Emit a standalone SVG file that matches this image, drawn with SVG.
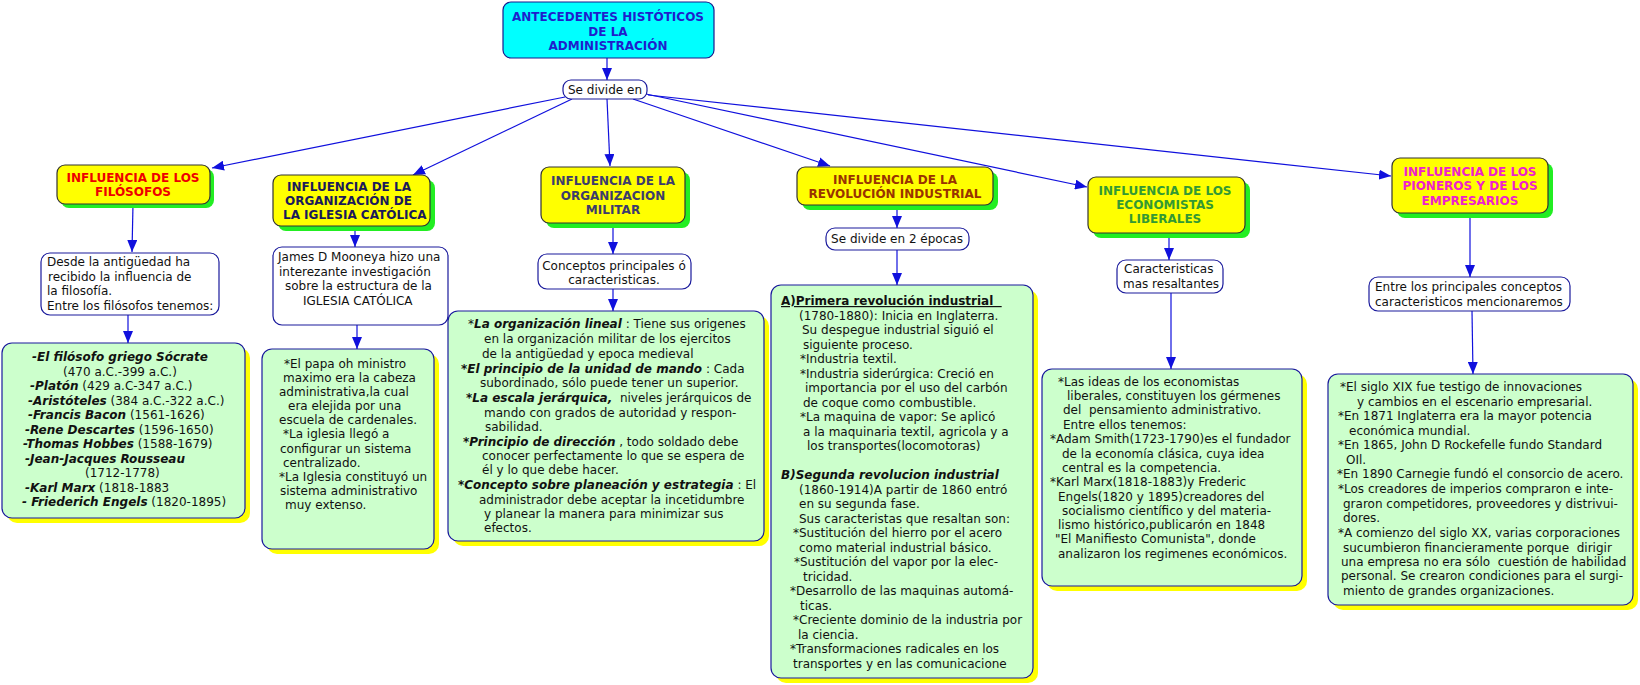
<svg xmlns="http://www.w3.org/2000/svg" width="1640" height="685" viewBox="0 0 1640 685">
<style>
text{font-family:"DejaVu Sans",Verdana,"Liberation Sans",sans-serif;font-size:12px;fill:#111}
.h{font-weight:bold}
.c{text-anchor:middle}
.bi{font-weight:bold;font-style:italic}
.shG{fill:#22ee22}
.shY{fill:#ffff00}
.hd{fill:#ffff00;stroke:#333;stroke-width:1.2}
.tt{fill:#00ffff;stroke:#1a1a8c;stroke-width:1.2}
.wb{fill:#fff;stroke:#1a1a9c;stroke-width:1.2}
.gb{fill:#ccffcc;stroke:#1a1a9c;stroke-width:1.2}
.ln{stroke:#1010dd;stroke-width:1.2;fill:none;marker-end:url(#ah)}
</style>
<defs>
<marker id="ah" markerUnits="userSpaceOnUse" markerWidth="12" markerHeight="10" refX="12" refY="5" orient="auto">
<path d="M0,0 L12,5 L0,10 z" fill="#1010dd"/>
</marker>
</defs>
<rect width="1640" height="685" fill="#fff"/>

<g id="connectors">
<line class="ln" x1="607" y1="58" x2="607" y2="80"/>
<line class="ln" x1="565" y1="97" x2="212" y2="168"/>
<line class="ln" x1="572" y1="99" x2="413" y2="175"/>
<line class="ln" x1="607" y1="99" x2="610" y2="166"/>
<line class="ln" x1="633" y1="99" x2="830" y2="166"/>
<line class="ln" x1="646" y1="94" x2="1087" y2="187"/>
<line class="ln" x1="648" y1="95" x2="1391" y2="176"/>
<line class="ln" x1="133" y1="204" x2="132" y2="252"/>
<line class="ln" x1="128" y1="315" x2="128" y2="343"/>
<line class="ln" x1="355" y1="226" x2="355" y2="247"/>
<line class="ln" x1="357" y1="325" x2="357" y2="349"/>
<line class="ln" x1="613" y1="223" x2="613" y2="254"/>
<line class="ln" x1="613" y1="289" x2="613" y2="311"/>
<line class="ln" x1="897" y1="205" x2="897" y2="228"/>
<line class="ln" x1="897" y1="250" x2="897" y2="285"/>
<line class="ln" x1="1169" y1="233" x2="1169" y2="260"/>
<line class="ln" x1="1171" y1="293" x2="1171" y2="369"/>
<line class="ln" x1="1470" y1="213" x2="1470" y2="277"/>
<line class="ln" x1="1472" y1="311" x2="1473" y2="374"/>
</g>

<g id="title">
<rect class="tt" x="503" y="2" width="211" height="56" rx="8"/>
<text class="h c" x="608" y="21" style="fill:#1f1fcc">ANTECEDENTES HISTÓTICOS</text>
<text class="h c" x="608" y="35.5" style="fill:#1f1fcc">DE LA</text>
<text class="h c" x="608" y="50" style="fill:#1f1fcc">ADMINISTRACIÓN</text>
</g>

<g id="se-divide">
<rect class="wb" x="563" y="80" width="84" height="19" rx="8"/>
<text class="c" x="605" y="94">Se divide en</text>
</g>

<g id="h-filosofos">
<rect class="shG" x="61" y="169" width="153" height="39" rx="8"/>
<rect class="hd" x="57" y="165" width="153" height="39" rx="8"/>
<text class="h c" x="133" y="182" style="fill:#ee0000">INFLUENCIA DE LOS</text>
<text class="h c" x="133" y="196" style="fill:#ee0000">FILÓSOFOS</text>
</g>

<g id="b-filosofos">
<rect class="wb" x="41" y="253" width="178" height="62" rx="9"/>
<text x="47" y="266">Desde la antigüedad ha</text>
<text x="48" y="281">recibido la influencia de</text>
<text x="47" y="295">la filosofía.</text>
<text x="47" y="310">Entre los filósofos tenemos:</text>
</g>

<g id="g-filosofos">
<rect class="shY" x="7" y="348" width="243" height="175" rx="10"/>
<rect class="gb" x="2" y="343" width="243" height="175" rx="10"/>
<text x="32" y="361"><tspan class="bi">-El filósofo griego Sócrate</tspan></text>
<text x="63" y="375.5">(470 a.C.-399 a.C.)</text>
<text x="30" y="390"><tspan class="bi">-Platón</tspan> (429 a.C-347 a.C.)</text>
<text x="28" y="404.5"><tspan class="bi">-Aristóteles</tspan> (384 a.C.-322 a.C.)</text>
<text x="28" y="419"><tspan class="bi">-Francis Bacon</tspan> (1561-1626)</text>
<text x="25" y="433.5"><tspan class="bi">-Rene Descartes</tspan> (1596-1650)</text>
<text x="23" y="448"><tspan class="bi">-Thomas Hobbes</tspan> (1588-1679)</text>
<text x="25" y="462.5"><tspan class="bi">-Jean-Jacques Rousseau</tspan></text>
<text x="85" y="477">(1712-1778)</text>
<text x="25" y="491.5"><tspan class="bi">-Karl Marx</tspan> (1818-1883</text>
<text x="22" y="506"><tspan class="bi">- Friederich Engels</tspan> (1820-1895)</text>
</g>

<g id="h-iglesia">
<rect class="shG" x="278" y="180" width="157" height="51" rx="8"/>
<rect class="hd" x="273" y="175" width="157" height="51" rx="8"/>
<text class="h" x="287" y="191" style="fill:#1a1a5a">INFLUENCIA DE LA</text>
<text class="h" x="285" y="205" style="fill:#1a1a5a">ORGANIZACIÓN DE</text>
<text class="h" x="283" y="219" style="fill:#1a1a5a">LA IGLESIA CATÓLICA</text>
</g>

<g id="b-iglesia">
<rect class="wb" x="273" y="247" width="175" height="78" rx="9"/>
<text x="278" y="261">James D Mooneya hizo una</text>
<text x="279" y="275.5">interezante investigación</text>
<text x="285" y="290">sobre la estructura de la</text>
<text x="303" y="304.5">IGLESIA CATÓLICA</text>
</g>

<g id="g-iglesia">
<rect class="shY" x="267" y="354" width="172" height="200" rx="10"/>
<rect class="gb" x="262" y="349" width="172" height="200" rx="10"/>
<text x="284" y="367.5">*El papa oh ministro</text>
<text x="283" y="381.5">maximo era la cabeza</text>
<text x="279" y="396">administrativa,la cual</text>
<text x="288" y="410">era elejida por una</text>
<text x="279" y="424">escuela de cardenales.</text>
<text x="283" y="438">*La iglesia llegó a</text>
<text x="280" y="452.5">configurar un sistema</text>
<text x="283" y="467">centralizado.</text>
<text x="279" y="481">*La Iglesia constituyó un</text>
<text x="280" y="495">sistema administrativo</text>
<text x="285" y="509">muy extenso.</text>
</g>

<g id="h-militar">
<rect class="shG" x="546" y="172" width="144" height="56" rx="8"/>
<rect class="hd" x="541" y="167" width="144" height="56" rx="8"/>
<text class="h c" x="613" y="185" style="fill:#3c3c6c">INFLUENCIA DE LA</text>
<text class="h c" x="613" y="199.5" style="fill:#3c3c6c">ORGANIZACION</text>
<text class="h c" x="613" y="214" style="fill:#3c3c6c">MILITAR</text>
</g>

<g id="b-militar">
<rect class="wb" x="538" y="254" width="153" height="35" rx="9"/>
<text class="c" x="614" y="270">Conceptos principales ó</text>
<text class="c" x="614" y="284">caracteristicas.</text>
</g>

<g id="g-militar">
<rect class="shY" x="453" y="316" width="316" height="230" rx="10"/>
<rect class="gb" x="448" y="311" width="316" height="230" rx="10"/>
<text x="468" y="328">*<tspan class="bi">La organización lineal</tspan> : Tiene sus origenes</text>
<text x="484" y="343">en la organización militar de los ejercitos</text>
<text x="482" y="357.5">de la antigüedad y epoca medieval</text>
<text x="461" y="372.5"><tspan class="bi">*El principio de la unidad de mando</tspan> : Cada</text>
<text x="480" y="387">subordinado, sólo puede tener un superior.</text>
<text x="466" y="401.5" xml:space="preserve"><tspan class="bi">*La escala jerárquica,</tspan>  niveles jerárquicos de</text>
<text x="484" y="416.5">mando con grados de autoridad y respon-</text>
<text x="485" y="431">sabilidad.</text>
<text x="463" y="445.5"><tspan class="bi">*Principio de dirección</tspan> , todo soldado debe</text>
<text x="482" y="460">conocer perfectamente lo que se espera de</text>
<text x="482" y="474">él y lo que debe hacer.</text>
<text x="458" y="489"><tspan class="bi">*Concepto sobre planeación y estrategia</tspan> : El</text>
<text x="479" y="504">administrador debe aceptar la incetidumbre</text>
<text x="484" y="518">y planear la manera para minimizar sus</text>
<text x="484" y="532">efectos.</text>
</g>

<g id="h-industrial">
<rect class="shG" x="802" y="172" width="196" height="38" rx="8"/>
<rect class="hd" x="797" y="167" width="196" height="38" rx="8"/>
<text class="h c" x="895" y="183.5" style="fill:#993300">INFLUENCIA DE LA</text>
<text class="h c" x="895" y="197.5" style="fill:#993300">REVOLUCIÓN INDUSTRIAL</text>
</g>

<g id="b-industrial">
<rect class="wb" x="826" y="228" width="143" height="22" rx="9"/>
<text class="c" x="897" y="243">Se divide en 2 épocas</text>
</g>

<g id="g-industrial">
<rect class="shY" x="776" y="290" width="262" height="393" rx="10"/>
<rect class="gb" x="771" y="285" width="262" height="393" rx="10"/>
<text x="781" y="305" class="h" text-decoration="underline" xml:space="preserve">A)Primera revolución industrial  </text>
<text x="799" y="319.5">(1780-1880): Inicia en Inglaterra.</text>
<text x="802" y="334">Su despegue industrial siguió el</text>
<text x="803" y="348.5">siguiente proceso.</text>
<text x="800" y="363">*Industria textil.</text>
<text x="800" y="377.5">*Industria siderúrgica: Creció en</text>
<text x="805" y="392">importancia por el uso del carbón</text>
<text x="803" y="406.5">de coque como combustible.</text>
<text x="800" y="421">*La maquina de vapor: Se aplicó</text>
<text x="803" y="435.5">a la maquinaria textil, agricola y a</text>
<text x="807" y="450">los transportes(locomotoras)</text>
<text x="781" y="479" class="bi">B)Segunda revolucion industrial</text>
<text x="799" y="493.5">(1860-1914)A partir de 1860 entró</text>
<text x="799" y="508">en su segunda fase.</text>
<text x="799" y="522.5">Sus caracteristas que resaltan son:</text>
<text x="793" y="537">*Sustitución del hierro por el acero</text>
<text x="799" y="551.5">como material industrial básico.</text>
<text x="794" y="566">*Sustitución del vapor por la elec-</text>
<text x="803" y="580.5">tricidad.</text>
<text x="790" y="595">*Desarrollo de las maquinas automá-</text>
<text x="800" y="609.5">ticas.</text>
<text x="793" y="624">*Creciente dominio de la industria por</text>
<text x="798" y="638.5">la ciencia.</text>
<text x="790" y="653">*Transformaciones radicales en los</text>
<text x="793" y="667.5">transportes y en las comunicacione</text>
</g>

<g id="h-economistas">
<rect class="shG" x="1093" y="182" width="157" height="56" rx="8"/>
<rect class="hd" x="1088" y="177" width="157" height="56" rx="8"/>
<text class="h c" x="1165" y="195" style="fill:#339933">INFLUENCIA DE LOS</text>
<text class="h c" x="1165" y="209" style="fill:#339933">ECONOMISTAS</text>
<text class="h c" x="1165" y="223" style="fill:#339933">LIBERALES</text>
</g>

<g id="b-economistas">
<rect class="wb" x="1117" y="260" width="106" height="33" rx="9"/>
<text x="1124" y="273">Caracteristicas</text>
<text x="1123" y="288">mas resaltantes</text>
</g>

<g id="g-economistas">
<rect class="shY" x="1047" y="374" width="260" height="217" rx="10"/>
<rect class="gb" x="1042" y="369" width="260" height="217" rx="10"/>
<text x="1058" y="386">*Las ideas de los economistas</text>
<text x="1067" y="400">liberales, constituyen los gérmenes</text>
<text x="1063" y="414" xml:space="preserve">del  pensamiento administrativo.</text>
<text x="1063" y="428.5">Entre ellos tenemos:</text>
<text x="1050" y="443">*Adam Smith(1723-1790)es el fundador</text>
<text x="1062" y="457.5">de la economía clásica, cuya idea</text>
<text x="1062" y="472">central es la competencia.</text>
<text x="1050" y="486">*Karl Marx(1818-1883)y Frederic</text>
<text x="1058" y="501">Engels(1820 y 1895)creadores del</text>
<text x="1062" y="515">socialismo científico y del materia-</text>
<text x="1058" y="529">lismo histórico,publicarón en 1848</text>
<text x="1055" y="543">"El Manifiesto Comunista", donde</text>
<text x="1058" y="557.5">analizaron los regimenes económicos.</text>
</g>

<g id="h-pioneros">
<rect class="shG" x="1397" y="163" width="156" height="55" rx="8"/>
<rect class="hd" x="1392" y="158" width="156" height="55" rx="8"/>
<text class="h c" x="1470" y="176" style="fill:#ee22cc">INFLUENCIA DE LOS</text>
<text class="h c" x="1470" y="190" style="fill:#ee22cc">PIONEROS Y DE LOS</text>
<text class="h c" x="1470" y="205" style="fill:#ee22cc">EMPRESARIOS</text>
</g>

<g id="b-pioneros">
<rect class="wb" x="1369" y="277" width="201" height="34" rx="9"/>
<text x="1375" y="291">Entre los principales conceptos</text>
<text x="1375" y="306">caracteristicos mencionaremos</text>
</g>

<g id="g-pioneros">
<rect class="shY" x="1333" y="379" width="305" height="231" rx="10"/>
<rect class="gb" x="1328" y="374" width="305" height="231" rx="10"/>
<text x="1340" y="391">*El siglo XIX fue testigo de innovaciones</text>
<text x="1357" y="406">y cambios en el escenario empresarial.</text>
<text x="1338" y="420">*En 1871 Inglaterra era la mayor potencia</text>
<text x="1349" y="435">económica mundial.</text>
<text x="1338" y="449">*En 1865, John D Rockefelle fundo Standard</text>
<text x="1346" y="464">OIl.</text>
<text x="1337" y="478">*En 1890 Carnegie fundó el consorcio de acero.</text>
<text x="1338" y="493">*Los creadores de imperios compraron e inte-</text>
<text x="1343" y="507.5">graron competidores, proveedores y distrivui-</text>
<text x="1343" y="522">dores.</text>
<text x="1338" y="537">*A comienzo del siglo XX, varias corporaciones</text>
<text x="1343" y="551.5" xml:space="preserve">sucumbieron financieramente porque  dirigir</text>
<text x="1341" y="566" xml:space="preserve">una empresa no era sólo  cuestión de habilidad</text>
<text x="1341" y="580">personal. Se crearon condiciones para el surgi-</text>
<text x="1343" y="594.5">miento de grandes organizaciones.</text>
</g>
</svg>
